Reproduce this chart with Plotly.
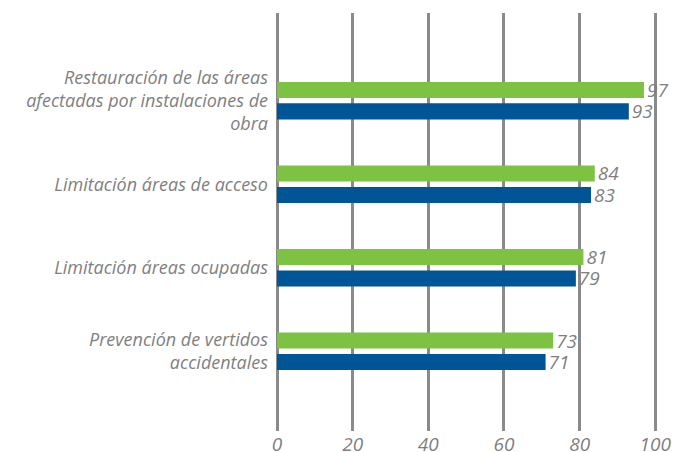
import plotly.graph_objects as go

categories = [
    "Restauración de las áreas<br>afectadas por instalaciones de<br>obra",
    "Limitación áreas de acceso",
    "Limitación áreas ocupadas",
    "Prevención de vertidos<br>accidentales",
]
serie_verde = [97, 84, 81, 73]
serie_azul = [93, 83, 79, 71]
x_ticks = [0, 20, 40, 60, 80, 100]

GRAY_TEXT = "#7f7f7f"
FONT = "Open Sans"

fig = go.Figure()
fig.add_trace(go.Bar(
    y=categories, x=serie_verde, orientation="h", name="Verde",
    marker=dict(color="#7dc242", line=dict(width=0)),
    text=serie_verde, textposition="outside", cliponaxis=False,
    constraintext="none",
    textfont=dict(family=FONT, size=19, color=GRAY_TEXT, style="italic"),
))
fig.add_trace(go.Bar(
    y=categories, x=serie_azul, orientation="h", name="Azul",
    marker=dict(color="#005596", line=dict(width=0)),
    text=serie_azul, textposition="outside", cliponaxis=False,
    constraintext="none",
    textfont=dict(family=FONT, size=19, color=GRAY_TEXT, style="italic"),
))

fig.update_layout(
    width=675, height=444,
    margin=dict(l=269, r=5, t=5, b=21),
    barmode="group", bargap=0.487, bargroupgap=0.25,
    showlegend=False,
    plot_bgcolor="white", paper_bgcolor="white",
    xaxis=dict(
        range=[0, 106], tickvals=x_ticks, ticktext=[str(v) for v in x_ticks],
        showgrid=True, gridcolor="#8a8a8a", gridwidth=3,
        zeroline=True, zerolinecolor="#8a8a8a", zerolinewidth=3,
        showline=False, ticks="", automargin=False,
        tickfont=dict(family=FONT, size=19, color=GRAY_TEXT, style="italic"),
    ),
    yaxis=dict(
        type="category", categoryorder="array", categoryarray=categories,
        range=[3.955, -1.05], automargin=False,
        showgrid=False, zeroline=False, showline=False, ticks="",
        ticklabelstandoff=8,
        tickfont=dict(family=FONT, size=18, color=GRAY_TEXT, style="italic"),
    ),
)

fig.write_html("out.html")
